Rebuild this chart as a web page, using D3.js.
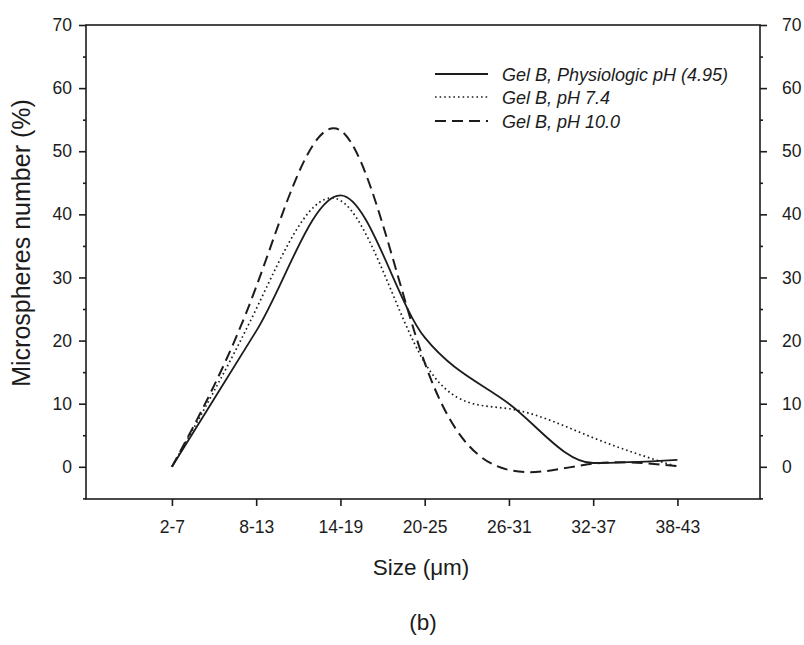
<!DOCTYPE html>
<html><head><meta charset="utf-8">
<script src="https://cdn.jsdelivr.net/npm/d3@7"></script>
<style>body{margin:0;background:#fff;}svg{display:block;font-family:"Liberation Sans",Arial,sans-serif;}</style>
</head><body>
<script>
const categories = ["2-7","8-13","14-19","20-25","26-31","32-37","38-43"];
const physiologic = [0, 21.5, 43, 20.5, 10, 0.6, 1.1];
const ph74 = [0, 25, 42.2, 16.5, 9.2, 4.6, 0];
const ph10 = [0, 28.5, 53.3, 16.5, -0.5, 0.5, 0.1];
const yTicks = [0,10,20,30,40,50,60,70];
const seriesNames = ["Gel B, Physiologic pH (4.95)","Gel B, pH 7.4","Gel B, pH 10.0"];

const W=804,H=645;
const svg=d3.select("body").append("svg").attr("width",W).attr("height",H);
const L=86,R=760,T=25,B=499;
const x=d3.scaleLinear().domain([-1.02,6.98]).range([L,R]);
const y=d3.scaleLinear().domain([-5.1,70]).range([B,T]);
const ink="#1c1c1c";
const font="Liberation Sans, Arial, sans-serif";

// frame
svg.append("rect").attr("x",L).attr("y",T).attr("width",R-L).attr("height",B-T)
  .attr("fill","none").attr("stroke",ink).attr("stroke-width",1.6);

const minor=d3.range(-5,71,5).filter(v=>v%10!==0);
// left axis
svg.append("g").attr("transform",`translate(${L},0)`)
  .call(d3.axisLeft(y).tickValues(yTicks).tickSize(7).tickPadding(7).tickFormat(d3.format("d")))
  .select(".domain").remove();
svg.append("g").attr("transform",`translate(${L},0)`)
  .call(d3.axisLeft(y).tickValues(minor).tickSize(3).tickFormat("")).select(".domain").remove();
// right axis
svg.append("g").attr("transform",`translate(${R},0)`)
  .call(d3.axisRight(y).tickValues(yTicks).tickSize(7).tickPadding(15).tickFormat(d3.format("d")))
  .select(".domain").remove();
svg.append("g").attr("transform",`translate(${R},0)`)
  .call(d3.axisRight(y).tickValues(minor).tickSize(3).tickFormat("")).select(".domain").remove();
// bottom axis
svg.append("g").attr("transform",`translate(0,${B})`)
  .call(d3.axisBottom(x).tickValues(d3.range(categories.length)).tickSize(7).tickPadding(15).tickFormat(i=>categories[i]))
  .select(".domain").remove();
svg.selectAll(".tick line").attr("stroke",ink).attr("stroke-width",1.6);
svg.selectAll(".tick text").attr("fill",ink).attr("font-size",17.5).attr("font-family",font);

// titles
svg.append("text").attr("transform","translate(30,243) rotate(-90)").attr("text-anchor","middle")
  .attr("font-size",25).attr("fill",ink).text("Microspheres number (%)");
svg.append("text").attr("x",421).attr("y",575).attr("text-anchor","middle")
  .attr("font-size",22.5).attr("fill",ink).text("Size (μm)");
svg.append("text").attr("x",423).attr("y",630).attr("text-anchor","middle")
  .attr("font-size",22.5).attr("fill",ink).text("(b)");

const styles=[{dash:null,w:1.8,curve:d3.curveMonotoneX},{dash:"1.6,3",w:1.7,curve:d3.curveNatural},{dash:"11,6",w:2,curve:d3.curveNatural}];
const data=[physiologic,ph74,ph10];
data.forEach((s,k)=>{
  const line=d3.line().x((d,i)=>x(i)).y(d=>y(d)).curve(styles[k].curve);
  svg.append("path").datum(s).attr("d",line).attr("fill","none").attr("stroke",ink)
    .attr("stroke-width",styles[k].w).attr("stroke-dasharray",styles[k].dash);
});

// legend
const ly=[74,97,121];
seriesNames.forEach((n,k)=>{
  svg.append("line").attr("x1",435).attr("x2",488).attr("y1",ly[k]).attr("y2",ly[k])
    .attr("stroke",ink).attr("stroke-width",styles[k].w).attr("stroke-dasharray",styles[k].dash);
  svg.append("text").attr("x",502).attr("y",ly[k]+6.5).attr("font-size",18).attr("font-style","italic")
    .attr("fill",ink).text(n);
});
</script>
</body></html>
